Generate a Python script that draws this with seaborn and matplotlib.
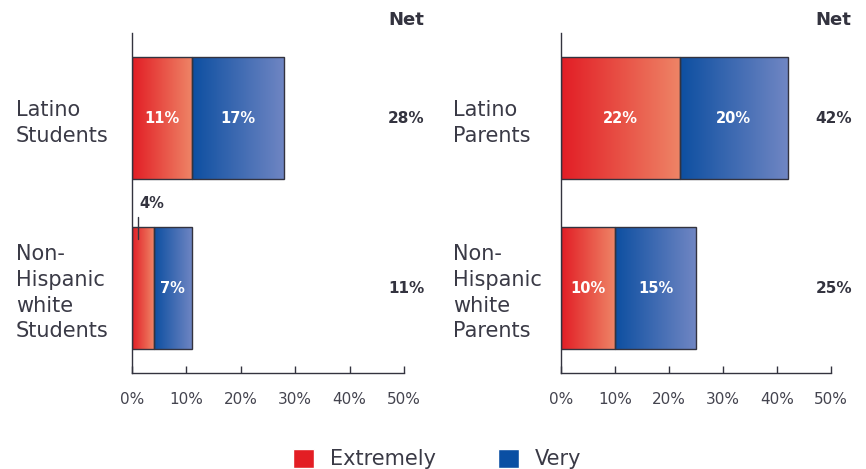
import numpy as np
import pandas as pd
import matplotlib
matplotlib.use('Agg')
import matplotlib.pyplot as plt
import matplotlib.transforms as mtransforms
from matplotlib.colors import LinearSegmentedColormap
from matplotlib.patches import Patch
import seaborn as sns

# data
students = ['Latino\nStudents', 'Non-\nHispanic\nwhite\nStudents']
students_extremely = [11, 4]
students_very = [17, 7]
parents = ['Latino\nParents', 'Non-\nHispanic\nwhite\nParents']
parents_extremely = [22, 10]
parents_very = [20, 15]
ticks = [0, 10, 20, 30, 40, 50]

sns.set_theme(style='white')
plt.rcParams['font.family'] = ['DejaVu Sans']

dark = '#33333f'
red_cmap = LinearSegmentedColormap.from_list('r', ['#e21d25', '#ee8466'])
blue_cmap = LinearSegmentedColormap.from_list('b', ['#0d4fa1', '#7086c3'])
grad = np.linspace(0, 1, 256).reshape(1, -1)

fig = plt.figure(figsize=(8.66, 4.69), dpi=100)
ax1 = fig.add_axes([132/866, 96/469, 272/866, 340/469])
ax2 = fig.add_axes([561/866, 96/469, 270/866, 340/469])


def panel(ax, groups, extremely, very, pad):
    df = pd.DataFrame({'group': groups, 'extremely': extremely, 'very': very})
    sns.barplot(data=df, x='very', y='group', color='#0d4fa1', width=0.72,
                edgecolor=dark, linewidth=1, ax=ax)
    sns.barplot(data=df, x='extremely', y='group', color='#e21d25', width=0.72,
                edgecolor=dark, linewidth=1, ax=ax)
    blue = ax.patches[:len(groups)]
    red = ax.patches[len(groups):]
    for p, e in zip(blue, extremely):
        p.set_x(e)
    # gradient fills clipped to each bar
    for bars, cmap in ((red, red_cmap), (blue, blue_cmap)):
        for p in bars:
            x, y, w, h = p.get_x(), p.get_y(), p.get_width(), p.get_height()
            im = ax.imshow(grad, cmap=cmap, extent=[x, x + w, y + h, y],
                           aspect='auto', zorder=1, interpolation='bicubic')
            im.set_clip_path(p)
            p.set_facecolor('none')
            p.set_zorder(2)
    # segment labels
    for i, (e, v) in enumerate(zip(extremely, very)):
        if e >= 6:
            ax.text(e / 2, i, f'{e}%', color='white', fontsize=10.5,
                    fontweight='bold', ha='center', va='center', zorder=3)
        else:
            ax.plot([1.1, 1.1], [i - 0.42, i - 0.29], color=dark, lw=1, zorder=3)
            ax.text(1.3, i - 0.5, f'{e}%', color=dark, fontsize=10.5,
                    fontweight='bold', ha='left', va='center', zorder=3)
        ax.text(e + v / 2, i, f'{v}%', color='white', fontsize=10.5,
                fontweight='bold', ha='center', va='center', zorder=3)
    # net column
    trans = mtransforms.blended_transform_factory(ax.transAxes, ax.transData)
    for i, (e, v) in enumerate(zip(extremely, very)):
        ax.text(0.942, i, f'{e + v}%', transform=trans, color=dark,
                fontsize=11, fontweight='bold', ha='left', va='center')
    ax.text(0.942, 1.038, 'Net', transform=ax.transAxes, color=dark,
            fontsize=13, fontweight='bold', ha='left', va='center')

    ax.set_xlim(0, 50)
    ax.set_ylim(1.5, -0.5)
    ax.set_xticks(ticks)
    ax.set_xticklabels([f'{t}%' for t in ticks], fontsize=11, color='#44444f')
    ax.set_xlabel('')
    ax.set_ylabel('')
    ax.tick_params(axis='x', bottom=True, direction='in', length=5, width=1,
                   color=dark, pad=14)
    ax.tick_params(axis='y', length=0, pad=pad, labelsize=15, labelcolor='#3a3a46')
    for lab in ax.get_yticklabels():
        lab.set_horizontalalignment('left')
        lab.set_linespacing(1.35)
    sns.despine(ax=ax)
    for s in ('left', 'bottom'):
        ax.spines[s].set_color(dark)
        ax.spines[s].set_linewidth(1)


panel(ax1, students, students_extremely, students_very, 116 * 72 / 100)
panel(ax2, parents, parents_extremely, parents_very, 108 * 72 / 100)

handles = [Patch(facecolor='#e31e24'), Patch(facecolor='#0a4fa3')]
fig.legend(handles, ['Extremely', 'Very'], loc='upper center',
           bbox_to_anchor=(437/866, 1 - 449/469), ncol=2, frameon=False,
           fontsize=15, handlelength=1, handleheight=1, handletextpad=0.75,
           columnspacing=3, borderaxespad=0, borderpad=0, labelcolor='#3a3a46')

fig.savefig('out.png', dpi=100)
